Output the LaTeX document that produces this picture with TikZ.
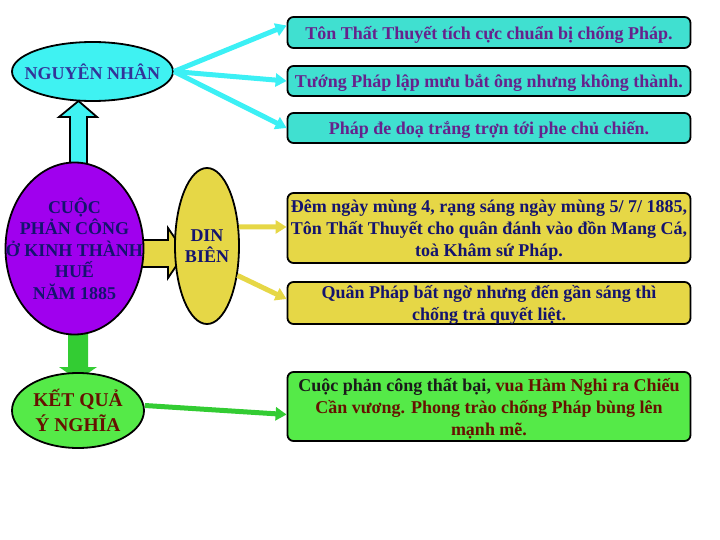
\documentclass[tikz,border=0pt]{standalone}
\usepackage{fontspec}
\setmainfont{Liberation Serif}
\usetikzlibrary{shapes.geometric,arrows.meta,calc}
\definecolor{nnfill}{HTML}{3FF2F2}
\definecolor{cyarrow}{HTML}{3CF0F5}
\definecolor{turq}{HTML}{40E0D0}
\definecolor{purpletxt}{HTML}{66228C}
\definecolor{navytxt}{HTML}{14146E}
\definecolor{nntxt}{HTML}{333399}
\definecolor{violetfill}{HTML}{A000EE}
\definecolor{yel}{HTML}{E6D746}
\definecolor{grarrow}{HTML}{33CC33}
\definecolor{grfill}{HTML}{55EA48}
\definecolor{redtxt}{HTML}{661100}
\definecolor{darktxt}{HTML}{1A1A1A}
\begin{document}
\begin{tikzpicture}[x=1pt,y=-1pt,
  ell/.style={ellipse, draw=black, line width=1.8pt, inner sep=0pt},
  elltxt/.style={align=center, inner sep=0pt, font=\bfseries\fontsize{18}{21.5}\selectfont},
  tbox/.style={rectangle, rounded corners=6pt, draw=black, line width=1.8pt, inner sep=0pt, align=center, minimum width=403, text depth=0pt, font=\bfseries\fontsize{18}{22}\selectfont},
  cyarr/.style={cyarrow, line width=5pt, -{Triangle[length=11pt,width=13pt]}},
  yarr/.style={yel, line width=5pt, -{Triangle[length=11pt,width=13pt]}},
  garr/.style={grarrow, line width=5pt, -{Triangle[length=11pt,width=13pt]}}
]
\useasboundingbox (0,0) rectangle (720,540);
% block arrows
\draw[fill=nnfill, line width=1.8pt, line join=miter] (70,165) -- (70,117) -- (59,117) -- (78.5,101) -- (97,117) -- (87,117) -- (87,165) -- cycle;
\draw[fill=yel, line width=1.8pt, line join=miter] (140,240) -- (168,240) -- (168,228) -- (185,253) -- (168,278) -- (168,267) -- (140,267) -- cycle;
\fill[grarrow] (68,330) -- (88,330) -- (88,367) -- (97,367) -- (78,380) -- (59,367) -- (68,367) -- cycle;
% ellipses
\node[ell, fill=nnfill, minimum width=161, minimum height=59,
  label={[elltxt, text=nntxt]center:NGUYÊN NHÂN}] (nn) at (92.5,71.5) {};
\node[ell, fill=violetfill, minimum width=138, minimum height=172,
  label={[elltxt, text=navytxt]center:{CUỘC\\PHẢN CÔNG\\Ở KINH THÀNH\\HUẾ\\NĂM 1885}}] (pc) at (74.5,248.5) {};
\node[ell, fill=yel, minimum width=64, minimum height=156,
  label={[elltxt, text=navytxt]center:{DIN\\BIÊN}}] (db) at (207,246) {};
\node[ell, fill=grfill, minimum width=132, minimum height=75,
  label={[elltxt, text=redtxt, font=\bfseries\fontsize{19.5}{25}\selectfont]center:{KẾT QUẢ\\Ý NGHĨA}}] (kq) at (78,410.5) {};
% boxes
\node[tbox, fill=turq, text=purpletxt, minimum height=31] (b1) at (489,32.5) {Tôn Thất Thuyết tích cực chuẩn bị chống Pháp.};
\node[tbox, fill=turq, text=purpletxt, minimum height=30] (b2) at (489,81) {Tướng Pháp lập mưu bắt ông nhưng không thành.};
\node[tbox, fill=turq, text=purpletxt, minimum height=30] (b3) at (489,128) {Pháp đe doạ trắng trợn tới phe chủ chiến.};
\node[tbox, fill=yel, text=navytxt, minimum height=70] (ba) at (489,228) {Đêm ngày mùng 4, rạng sáng ngày mùng 5/ 7/ 1885,\\Tôn Thất Thuyết cho quân đánh vào đồn Mang Cá,\\toà Khâm sứ Pháp.};
\node[tbox, fill=yel, text=navytxt, minimum height=42] (bb) at (489,303) {Quân Pháp bất ngờ nhưng đến gần sáng thì\\chống trả quyết liệt.};
\node[tbox, fill=grfill, text=redtxt, minimum height=69] (gb) at (489,406.5) {\textcolor{darktxt}{Cuộc phản công thất bại,} vua Hàm Nghi ra Chiếu\\Cần vương. Phong trào chống Pháp bùng lên\\mạnh mẽ.};
% connectors
\draw[cyarr] (nn.east) -- ($(b1.west)+(0,-7)$);
\draw[cyarr] (nn.east) -- (b2.west);
\draw[cyarr] (nn.east) -- (b3.west);
\draw[yarr] (db.31) -- ($(ba.west)+(0,-1)$);
\draw[yarr] (db.-44) -- ($(bb.west)+(0,-4)$);
\draw[garr] ($(kq.east)+(0,-5)$) -- ($(gb.west)+(0,8)$);
\end{tikzpicture}
\end{document}
